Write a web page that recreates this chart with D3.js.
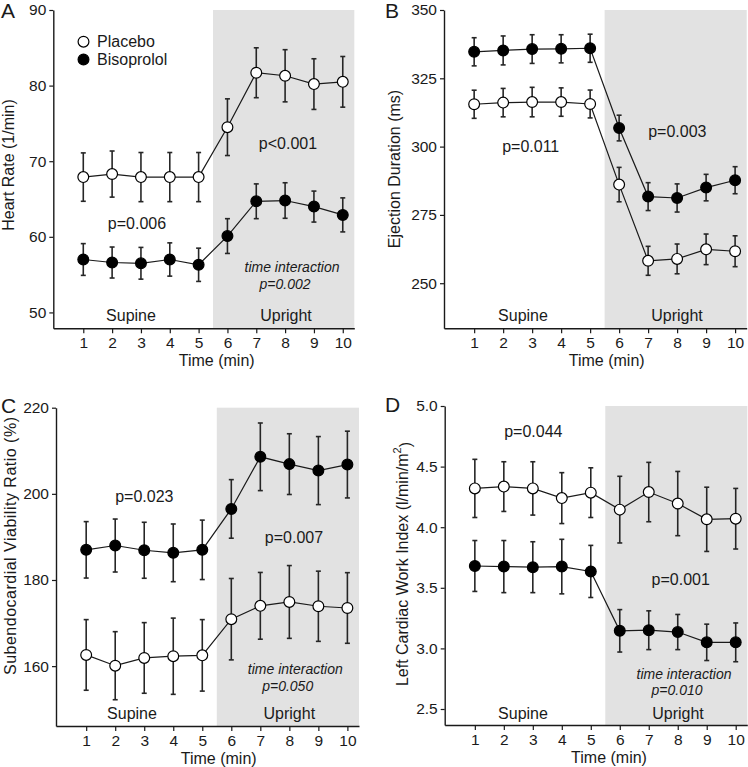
<!DOCTYPE html>
<html>
<head>
<meta charset="utf-8">
<script src="https://cdn.jsdelivr.net/npm/d3@7"></script>
<style>
  html, body { margin: 0; padding: 0; background: #fff; }
  svg { display: block; font-family: "Liberation Sans", Arial, Helvetica, sans-serif; }
</style>
</head>
<body>
<svg id="chart" width="748" height="767"></svg>
<script>
// ---------- DATA ----------
const times = [1, 2, 3, 4, 5, 6, 7, 8, 9, 10];
const seriesNames = ["Placebo", "Bisoprolol"];

// A: Heart Rate (1/min)
const hrPlacebo      = [67.9, 68.3, 67.9, 67.9, 67.9, 74.5, 81.7, 81.3, 80.2, 80.5];
const hrPlaceboSE    = [3.2, 3.05, 3.25, 3.25, 3.25, 3.75, 3.3, 3.45, 3.35, 3.35];
const hrBisoprolol   = [57.0, 56.6, 56.5, 57.0, 56.3, 60.1, 64.7, 64.8, 64.0, 62.9];
const hrBisoprololSE = [2.1, 2.05, 2.1, 2.2, 2.2, 2.3, 2.3, 2.35, 2.05, 2.25];
const hrTicks = [50, 60, 70, 80, 90];

// B: Ejection Duration (ms)
const edPlacebo      = [315.5, 316.1, 316.3, 316.3, 315.6, 286.1, 258.2, 258.9, 262.4, 261.7];
const edPlaceboSE    = [5.15, 5.2, 5.4, 5.2, 5.1, 6.3, 5.3, 5.45, 5.6, 5.65];
const edBisoprolol   = [334.7, 335.2, 335.7, 335.8, 336.0, 306.8, 281.7, 281.2, 285.0, 287.7];
const edBisoprololSE = [5.15, 5.3, 5.25, 5.15, 5.15, 4.7, 5.1, 5.15, 4.85, 4.95];
const edTicks = [250, 275, 300, 325, 350];

// C: Subendocardial Viability Ratio (%)
const svPlacebo      = [162.6, 160.1, 161.9, 162.3, 162.5, 170.9, 174.0, 174.9, 173.9, 173.5];
const svPlaceboSE    = [8.2, 7.9, 8.2, 8.85, 8.3, 9.45, 7.75, 8.45, 8.15, 8.2];
const svBisoprolol   = [187.0, 188.0, 186.9, 186.3, 187.0, 196.5, 208.6, 206.9, 205.4, 206.8];
const svBisoprololSE = [6.55, 6.15, 6.5, 6.7, 6.9, 6.8, 7.85, 7.05, 7.9, 7.75];
const svTicks = [160, 180, 200, 220];

// D: Left Cardiac Work Index (l/min/m2)
const cwPlacebo      = [4.32, 4.335, 4.32, 4.24, 4.285, 4.145, 4.29, 4.195, 4.065, 4.07];
const cwPlaceboSE    = [0.24, 0.205, 0.22, 0.21, 0.205, 0.275, 0.245, 0.265, 0.265, 0.25];
const cwBisoprolol   = [3.68, 3.675, 3.67, 3.675, 3.635, 3.145, 3.15, 3.135, 3.05, 3.05];
const cwBisoprololSE = [0.21, 0.215, 0.21, 0.225, 0.215, 0.175, 0.16, 0.145, 0.15, 0.16];
const cwTicks = [2.5, 3.0, 3.5, 4.0, 4.5, 5.0];

// ---------- LAYOUT ----------
const svg = d3.select("#chart");
const FONT_COLOR = "#1a1a1a";
const LINE_COLOR = "#1a1a1a";
const SHADE = "#e2e2e2";

const panels = [
  { letter: "A", lx: 1, ly: 18, x0: 53.3, x1: 354.3, y0: 10, y1: 328.3, yDomain: [47.9, 90],
    ticks: hrTicks, fmt: d3.format("d"),
    placebo: hrPlacebo, placeboSE: hrPlaceboSE, biso: hrBisoprolol, bisoSE: hrBisoprololSE,
    ylabel: ["Heart Rate (1/min)"], ylx: 8.5, yly: 165, xlx: 216.7,
    notes: [
      { t: "p<0.001", x: 288, y: 143 }, { t: "p=0.006", x: 137, y: 223 },
      { t: "time interaction", x: 292, y: 267, it: true }, { t: "p=0.002", x: 285, y: 283.5, it: true },
      { t: "Supine", x: 131, y: 315 }, { t: "Upright", x: 286, y: 315 }
    ], legend: true },
  { letter: "B", lx: 385, ly: 18, x0: 444, x1: 746.7, y0: 10, y1: 328.3, yDomain: [233.5, 350],
    ticks: edTicks, fmt: d3.format("d"),
    placebo: edPlacebo, placeboSE: edPlaceboSE, biso: edBisoprolol, bisoSE: edBisoprololSE,
    ylabel: ["Ejection Duration (ms)"], ylx: 394.7, yly: 169, xlx: 606.7,
    notes: [
      { t: "p=0.011", x: 530.7, y: 146 }, { t: "p=0.003", x: 677.3, y: 131.7 },
      { t: "Supine", x: 523, y: 315 }, { t: "Upright", x: 677, y: 315 }
    ] },
  { letter: "C", lx: 1, ly: 413, x0: 56, x1: 359, y0: 407.7, y1: 726, yDomain: [146.1, 220],
    ticks: svTicks, fmt: d3.format("d"),
    placebo: svPlacebo, placeboSE: svPlaceboSE, biso: svBisoprolol, bisoSE: svBisoprololSE,
    ylabel: ["Subendocardial Viability Ratio (%)"], ylx: 10, yly: 546, ylen: 258, xlx: 218.7,
    notes: [
      { t: "p=0.023", x: 144.3, y: 496 }, { t: "p=0.007", x: 294, y: 537.7 },
      { t: "time interaction", x: 295.3, y: 669, it: true }, { t: "p=0.050", x: 287.7, y: 685.7, it: true },
      { t: "Supine", x: 132, y: 713.3 }, { t: "Upright", x: 289.3, y: 713.3 }
    ] },
  { letter: "D", lx: 385, ly: 412, x0: 444.7, x1: 747.3, y0: 406, y1: 725, yDomain: [2.368, 5.0],
    ticks: cwTicks, fmt: d3.format(".1f"),
    placebo: cwPlacebo, placeboSE: cwPlaceboSE, biso: cwBisoprolol, bisoSE: cwBisoprololSE,
    ylabel: null, ylx: 402.3, yly: 564, xlx: 609,
    notes: [
      { t: "p=0.044", x: 533.3, y: 431.7 }, { t: "p=0.001", x: 680.7, y: 579 },
      { t: "time interaction", x: 684, y: 674.3, it: true }, { t: "p=0.010", x: 677, y: 690, it: true },
      { t: "Supine", x: 523, y: 713.3 }, { t: "Upright", x: 678, y: 713.3 }
    ] }
];

panels.forEach(p => {
  const g = svg.append("g");
  const x = d3.scaleLinear().domain([-0.04, 10.4]).range([p.x0, p.x1]);
  const y = d3.scaleLinear().domain(p.yDomain).range([p.y1, p.y0]);

  // Upright shading
  g.append("rect")
    .attr("x", x(5.5)).attr("y", y(p.yDomain[1]))
    .attr("width", x(10.4) - x(5.5)).attr("height", y(p.yDomain[0]) - y(p.yDomain[1]))
    .attr("fill", SHADE);

  // axes
  const yAxis = d3.axisLeft(y).tickValues(p.ticks).tickFormat(p.fmt).tickSize(4).tickSizeOuter(0).tickPadding(3);
  const xAxis = d3.axisBottom(x).tickValues(times).tickFormat(d3.format("d")).tickSize(5).tickSizeOuter(0).tickPadding(4);
  const gy = g.append("g").attr("transform", `translate(${p.x0},0)`).call(yAxis);
  const gx = g.append("g").attr("transform", `translate(0,${p.y1})`).call(xAxis);
  [gx, gy].forEach(a => {
    a.attr("font-family", null).attr("font-size", null);
    a.selectAll("path.domain").attr("stroke", LINE_COLOR).attr("stroke-width", 1.4);
    a.selectAll(".tick line").attr("stroke", LINE_COLOR).attr("stroke-width", 1.2);
    a.selectAll(".tick text").attr("fill", FONT_COLOR).style("font-size", "15.5px")
      .style("font-family", '"Liberation Sans", Arial, sans-serif');
  });

  // annotations
  p.notes.forEach(n => {
    g.append("text").attr("x", n.x).attr("y", n.y)
      .attr("text-anchor", "middle").attr("dominant-baseline", "central")
      .attr("fill", FONT_COLOR)
      .style("font-size", n.it ? "14px" : "16px")
      .style("font-style", n.it ? "italic" : "normal")
      .text(n.t);
  });

  // series
  const drawSeries = (vals, se, filled) => {
    const pts = times.map((t, i) => ({ t, v: vals[i], e: se[i] }));
    g.append("path").datum(pts)
      .attr("d", d3.line().x(d => x(d.t)).y(d => y(d.v)))
      .attr("fill", "none").attr("stroke", LINE_COLOR).attr("stroke-width", 1.2);
    const eb = g.append("g").attr("stroke", "#262626").attr("stroke-width", 1.6);
    eb.selectAll("line.v").data(pts).join("line")
      .attr("x1", d => x(d.t)).attr("x2", d => x(d.t))
      .attr("y1", d => y(d.v + d.e)).attr("y2", d => y(d.v - d.e));
    eb.selectAll("line.top").data(pts).join("line")
      .attr("x1", d => x(d.t) - 2.5).attr("x2", d => x(d.t) + 2.5)
      .attr("y1", d => y(d.v + d.e)).attr("y2", d => y(d.v + d.e));
    eb.selectAll("line.bot").data(pts).join("line")
      .attr("x1", d => x(d.t) - 2.5).attr("x2", d => x(d.t) + 2.5)
      .attr("y1", d => y(d.v - d.e)).attr("y2", d => y(d.v - d.e));
    g.append("g").selectAll("circle").data(pts).join("circle")
      .attr("cx", d => x(d.t)).attr("cy", d => y(d.v)).attr("r", 5.4)
      .attr("fill", filled ? "#000" : "#fff").attr("stroke", "#000").attr("stroke-width", 1.2);
  };
  drawSeries(p.placebo, p.placeboSE, false);
  drawSeries(p.biso, p.bisoSE, true);

  // axis titles
  const yl = g.append("text")
    .attr("transform", `translate(${p.ylx},${p.yly}) rotate(-90)`)
    .attr("text-anchor", "middle").attr("dominant-baseline", "central")
    .attr("fill", FONT_COLOR).style("font-size", "16px");
  if (p.ylabel) {
    yl.text(p.ylabel[0]);
    if (p.ylen) yl.attr("textLength", p.ylen).attr("lengthAdjust", "spacing");
  } else {
    yl.append("tspan").text("Left Cardiac Work Index (l/min/m");
    yl.append("tspan").attr("dy", "-0.45em").style("font-size", "11px").text("2");
    yl.append("tspan").attr("dy", "0.45em").text(")");
  }
  g.append("text").attr("x", p.xlx).attr("y", p.y1 + 37.5)
    .attr("text-anchor", "middle")
    .attr("fill", FONT_COLOR).style("font-size", "16px").text("Time (min)");

  // panel letter
  g.append("text").attr("x", p.lx).attr("y", p.ly)
    .attr("fill", FONT_COLOR).style("font-size", "21px").text(p.letter);

  // legend
  if (p.legend) {
    const lg = g.append("g");
    seriesNames.forEach((name, i) => {
      const cy = 41.7 + i * 17.8;
      lg.append("circle").attr("cx", 83.5).attr("cy", cy).attr("r", 5.4)
        .attr("fill", i === 0 ? "#fff" : "#000").attr("stroke", "#000").attr("stroke-width", 1.2);
      lg.append("text").attr("x", 97).attr("y", cy).attr("dominant-baseline", "central")
        .attr("fill", FONT_COLOR).style("font-size", "16px").text(name);
    });
  }
});
</script>
</body>
</html>
